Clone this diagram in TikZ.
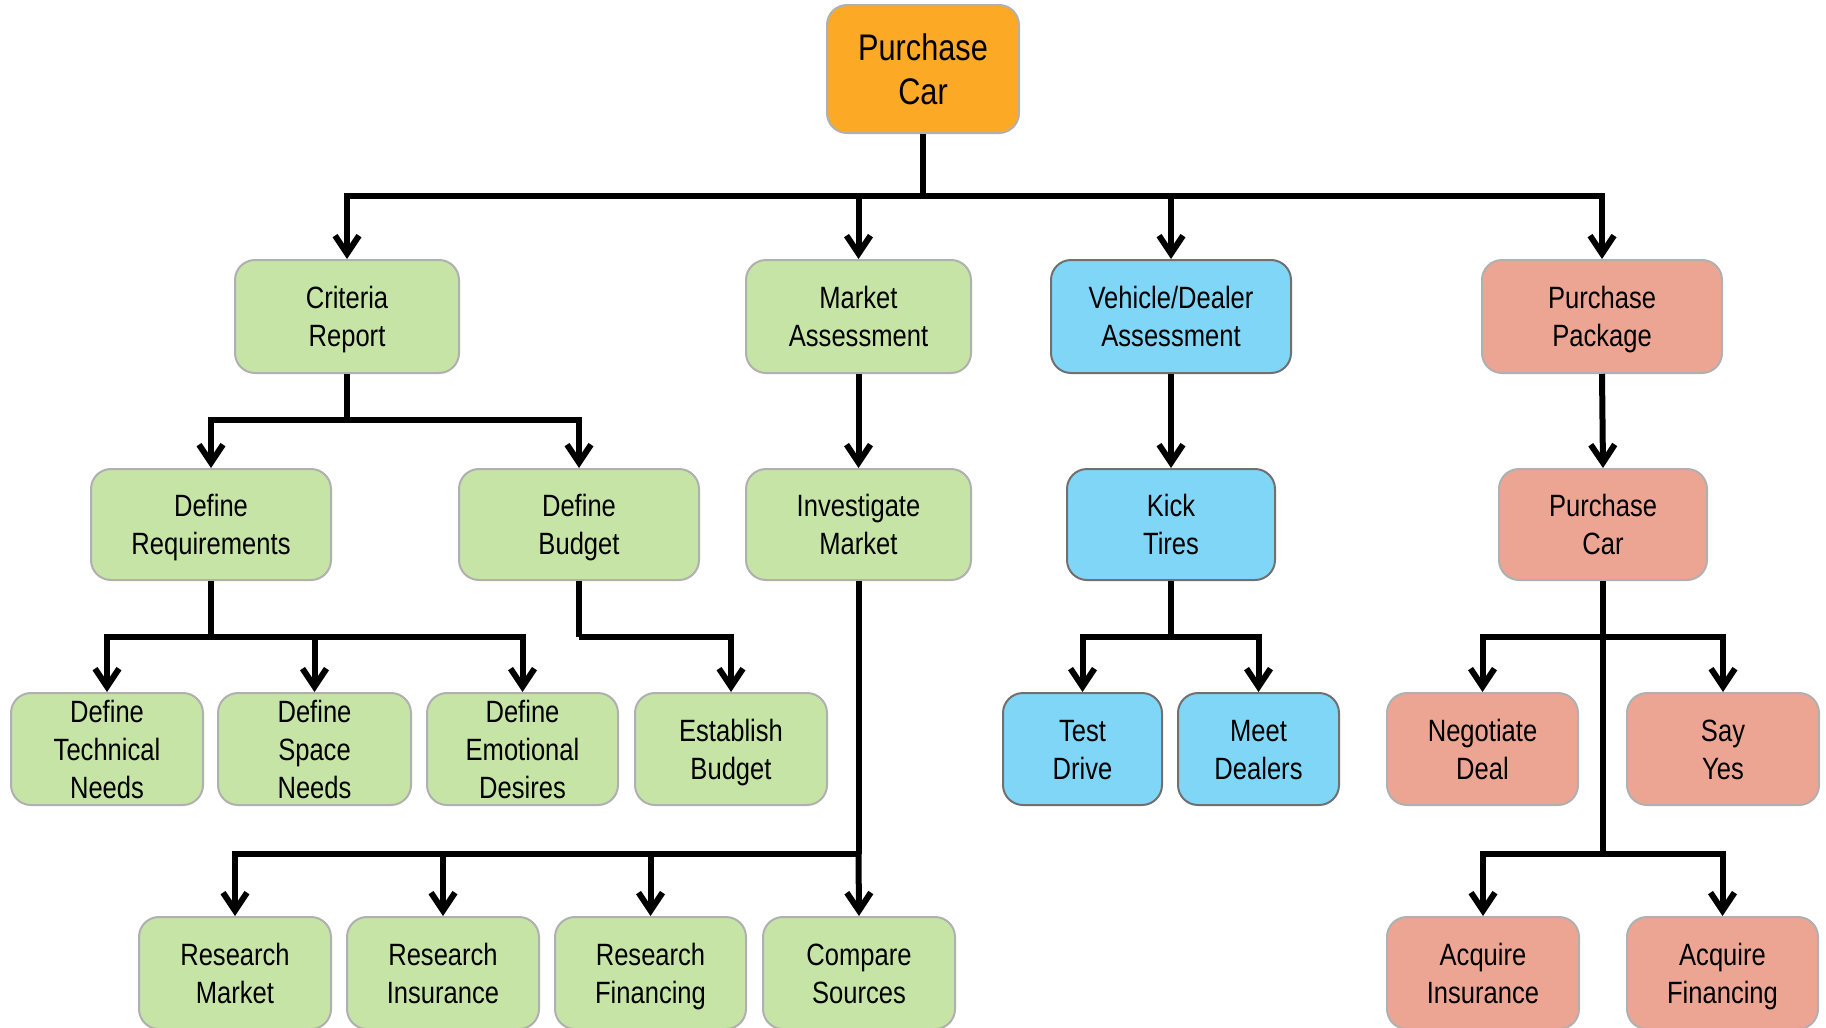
\documentclass[tikz,border=0pt]{standalone}
\usepackage{fontspec}
\setmainfont{Liberation Sans}[FakeStretch=0.83]
\usetikzlibrary{arrows.meta}
\definecolor{cOrange}{RGB}{252,169,38}
\definecolor{cGreen}{RGB}{198,228,165}
\definecolor{cBlue}{RGB}{128,214,247}
\definecolor{cSalmon}{RGB}{237,165,147}
\definecolor{bLight}{RGB}{176,176,176}
\definecolor{bDark}{RGB}{112,112,112}
\newlength\capht
\setlength\capht{11pt}
\newcommand\twol[2]{\rule{0pt}{\capht}\smash{#1}\\\smash{#2}}
\newcommand\threel[3]{\rule{0pt}{\capht}\smash{#1}\\\smash{#2}\\\smash{#3}}
\tikzset{
  box/.style={rounded corners=10pt, line width=1pt, align=center, inner sep=0pt,
    font=\fontsize{15.4}{19}\selectfont\setlength\capht{11pt}, minimum height=56pt},
  rootbox/.style={box, fill=cOrange, draw=bLight, font=\fontsize{18.5}{21.8}\selectfont\setlength\capht{13.2pt}},
  gbox/.style={box, fill=cGreen, draw=bLight},
  bbox/.style={box, fill=cBlue, draw=bDark},
  sbox/.style={box, fill=cSalmon, draw=bLight},
  ln/.style={line width=3pt, draw=black},
  ar/.style={ln, -{Straight Barb[length=9pt,width=12pt]}},
}
\begin{document}
\begin{tikzpicture}[x=0.5pt,y=-0.5pt]
\useasboundingbox (0,0) rectangle (1826,1028);
% level 0
\node[rootbox, minimum width=96pt, minimum height=64pt] (root) at (923,69) {\twol{Purchase}{Car}};
% level 1
\node[gbox, minimum width=112pt, minimum height=56.5pt] (crit) at (347,316.5) {\twol{Criteria}{Report}};
\node[gbox, minimum width=112.5pt, minimum height=56.5pt] (mkt) at (858.5,316.5) {\twol{Market}{Assessment}};
\node[bbox, minimum width=120pt, minimum height=56.5pt] (veh) at (1171,316.5) {\twol{Vehicle/Dealer}{Assessment}};
\node[sbox, minimum width=120pt, minimum height=56.5pt] (pkg) at (1602,316.5) {\twol{Purchase}{Package}};
% level 2
\node[gbox, minimum width=120pt, minimum height=55.5pt] (defreq) at (211,524.5) {\twol{Define}{Requirements}};
\node[gbox, minimum width=120pt, minimum height=55.5pt] (defbud) at (579,524.5) {\twol{Define}{Budget}};
\node[gbox, minimum width=112.5pt, minimum height=55.5pt] (inv) at (858.5,524.5) {\twol{Investigate}{Market}};
\node[bbox, minimum width=104pt, minimum height=55.5pt] (kick) at (1171,524.5) {\twol{Kick}{Tires}};
\node[sbox, minimum width=104pt, minimum height=55.5pt] (pcar) at (1603,524.5) {\twol{Purchase}{Car}};
% level 3
\node[gbox, minimum width=96pt] (tech) at (107,749) {\threel{Define}{Technical}{Needs}};
\node[gbox, minimum width=96.5pt] (space) at (314.5,749) {\threel{Define}{Space}{Needs}};
\node[gbox, minimum width=95.5pt] (emo) at (522.5,749) {\threel{Define}{Emotional}{Desires}};
\node[gbox, minimum width=96pt] (estb) at (731,749) {\twol{Establish}{Budget}};
\node[bbox, minimum width=79.5pt] (test) at (1082.5,749) {\twol{Test}{Drive}};
\node[bbox, minimum width=80.5pt] (meet) at (1258.5,749) {\twol{Meet}{Dealers}};
\node[sbox, minimum width=95.5pt] (neg) at (1482.5,749) {\twol{Negotiate}{Deal}};
\node[sbox, minimum width=96pt] (yes) at (1723,749) {\twol{Say}{Yes}};
% level 4
\node[gbox, minimum width=96pt] (rmkt) at (235,973) {\twol{Research}{Market}};
\node[gbox, minimum width=96pt] (rins) at (443,973) {\twol{Research}{Insurance}};
\node[gbox, minimum width=95.5pt] (rfin) at (650.5,973) {\twol{Research}{Financing}};
\node[gbox, minimum width=96pt] (comp) at (859,973) {\twol{Compare}{Sources}};
\node[sbox, minimum width=96pt] (acqi) at (1483,973) {\twol{Acquire}{Insurance}};
\node[sbox, minimum width=95.5pt] (acqf) at (1722.5,973) {\twol{Acquire}{Financing}};
% bus coordinates
\coordinate (b0) at (923,196);
\coordinate (b1) at (347,420);
\coordinate (b2) at (211,637);
\coordinate (b3) at (579,637);
\coordinate (b4) at (858.5,854);
\coordinate (b5) at (1171,637);
\coordinate (b6) at (1603,637);
\coordinate (b7) at (1603,854);
% root
\draw[ln] (root.south) -- (b0);
\draw[ar] (b0) -| (crit.north);
\draw[ar] (b0) -| (mkt.north);
\draw[ar] (b0) -| (veh.north);
\draw[ar] (b0) -| (pkg.north);
% criteria
\draw[ln] (crit.south) -- (b1);
\draw[ar] (b1) -| (defreq.north);
\draw[ar] (b1) -| (defbud.north);
% define requirements
\draw[ln] (defreq.south) -- (b2);
\draw[ar] (b2) -| (tech.north);
\draw[ar] (b2) -| (space.north);
\draw[ar] (b2) -| (emo.north);
% define budget
\draw[ln] (defbud.south) -- (b3);
\draw[ar] (b3) -| (estb.north);
% market
\draw[ar] (mkt.south) -- (inv.north);
\draw[ln] (inv.south) -- (b4);
\draw[ar] (b4) -| (rmkt.north);
\draw[ar] (b4) -| (rins.north);
\draw[ar] (b4) -| (rfin.north);
\draw[ar] (b4) -- (comp.north);
% vehicle
\draw[ar] (veh.south) -- (kick.north);
\draw[ln] (kick.south) -- (b5);
\draw[ar] (b5) -| (test.north);
\draw[ar] (b5) -| (meet.north);
% purchase
\draw[ar] (pkg.south) -- (pcar.north);
\draw[ln] (pcar.south) -- (b7);
\draw[ar] (b6) -| (neg.north);
\draw[ar] (b6) -| (yes.north);
\draw[ar] (b7) -| (acqi.north);
\draw[ar] (b7) -| (acqf.north);
\end{tikzpicture}
\end{document}
